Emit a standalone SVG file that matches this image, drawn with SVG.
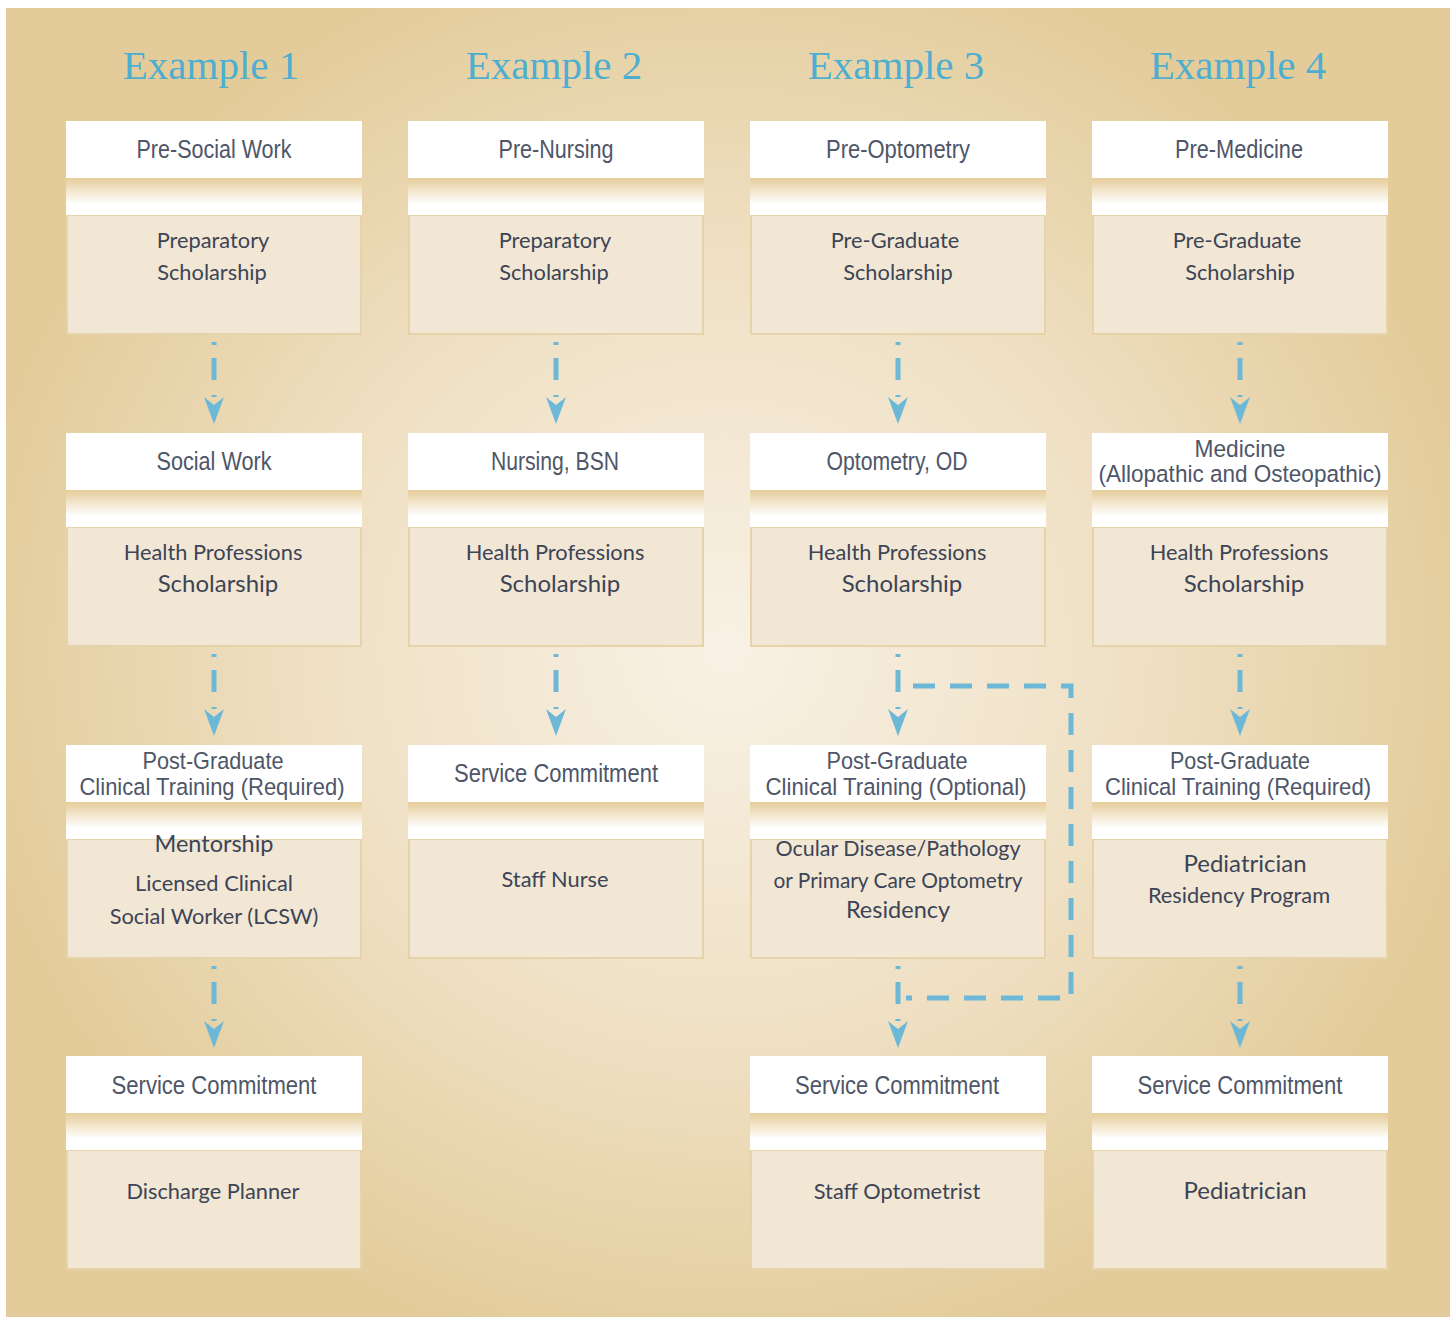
<svg xmlns="http://www.w3.org/2000/svg" width="1450" height="1317" viewBox="0 0 1450 1317">
<defs>
<radialGradient id="bg" cx="725" cy="650" r="760" gradientUnits="userSpaceOnUse" gradientTransform="translate(725 650) scale(1 0.95) translate(-725 -650)">
<stop offset="0" stop-color="#f8f1e5"/>
<stop offset="0.55" stop-color="#efe0c3"/>
<stop offset="1" stop-color="#e3cc9a"/>
</radialGradient>
<linearGradient id="band" x1="0" y1="0" x2="0" y2="1">
<stop offset="0" stop-color="#e6cd9a"/>
<stop offset="0.7" stop-color="#ffffff"/>
<stop offset="1" stop-color="#ffffff"/>
</linearGradient>
<style>
.hd{fill:#ffffff}
.bd{fill:#f2e7d5;stroke:#e6d3a9;stroke-width:2}
.bn{fill:url(#band)}
.ht{font-family:"Liberation Sans",Arial,sans-serif;font-size:26px;fill:#4e5668;text-anchor:middle}
.h2{font-family:"Liberation Sans",Arial,sans-serif;font-size:24.5px;fill:#4e5668;text-anchor:middle}
.bt{font-family:Lato,"Open Sans",sans-serif;font-size:21.8px;fill:#3c4455;text-anchor:middle}
.bl{font-size:24px}
.ex{font-family:"Liberation Serif",serif;font-size:41px;fill:#4eaed0;text-anchor:middle}
.dl{fill:none;stroke:#6cb8d6;stroke-width:5}
.ah{fill:#6cb8d6}
</style>
<symbol id="arr" overflow="visible">
<line class="dl" x1="0" y1="0" x2="0" y2="55" stroke-dasharray="3 13 22 15 3 20"/>
<polygon class="ah" points="0,82 -10,55 0,63 10,55"/>
</symbol>
</defs>
<rect x="6" y="8" width="1444" height="1309" fill="url(#bg)"/>

<g id="headings">
<text class="ex" x="211" y="79">Example 1</text>
<text class="ex" x="554" y="79">Example 2</text>
<text class="ex" x="896" y="79">Example 3</text>
<text class="ex" x="1238" y="79">Example 4</text>
</g>

<g id="connectors">
<use href="#arr" x="214" y="342"/>
<use href="#arr" x="214" y="654"/>
<use href="#arr" x="214" y="966"/>
<use href="#arr" x="556" y="342"/>
<use href="#arr" x="556" y="654"/>
<use href="#arr" x="898" y="342"/>
<use href="#arr" x="898" y="654"/>
<use href="#arr" x="898" y="966"/>
<use href="#arr" x="1240" y="342"/>
<use href="#arr" x="1240" y="654"/>
<use href="#arr" x="1240" y="966"/>
<path class="dl" d="M913 686 H1071 V998 H906" stroke-dasharray="22 15"/>
</g>

<!-- Row 1 -->
<g id="n1a"><rect class="bd" x="67" y="215" width="294" height="119"/><rect class="hd" x="66" y="121" width="296" height="57"/><rect class="bn" x="66" y="178" width="296" height="37"/>
<text class="ht" x="214" y="158" textLength="155" lengthAdjust="spacingAndGlyphs">Pre-Social Work</text>
<text class="bt" x="213" y="248">Preparatory</text><text class="bt" x="212" y="280">Scholarship</text></g>
<g id="n2a"><rect class="bd" x="409" y="215" width="294" height="119"/><rect class="hd" x="408" y="121" width="296" height="57"/><rect class="bn" x="408" y="178" width="296" height="37"/>
<text class="ht" x="556" y="158" textLength="115" lengthAdjust="spacingAndGlyphs">Pre-Nursing</text>
<text class="bt" x="555" y="248">Preparatory</text><text class="bt" x="554" y="280">Scholarship</text></g>
<g id="n3a"><rect class="bd" x="751" y="215" width="294" height="119"/><rect class="hd" x="750" y="121" width="296" height="57"/><rect class="bn" x="750" y="178" width="296" height="37"/>
<text class="ht" x="898" y="158" textLength="144" lengthAdjust="spacingAndGlyphs">Pre-Optometry</text>
<text class="bt" x="895" y="248">Pre-Graduate</text><text class="bt" x="898" y="280">Scholarship</text></g>
<g id="n4a"><rect class="bd" x="1093" y="215" width="294" height="119"/><rect class="hd" x="1092" y="121" width="296" height="57"/><rect class="bn" x="1092" y="178" width="296" height="37"/>
<text class="ht" x="1239" y="158" textLength="128" lengthAdjust="spacingAndGlyphs">Pre-Medicine</text>
<text class="bt" x="1237" y="248">Pre-Graduate</text><text class="bt" x="1240" y="280">Scholarship</text></g>

<!-- Row 2 -->
<g id="n1b"><rect class="bd" x="67" y="527" width="294" height="119"/><rect class="hd" x="66" y="433" width="296" height="57"/><rect class="bn" x="66" y="490" width="296" height="37"/>
<text class="ht" x="214" y="470" textLength="115" lengthAdjust="spacingAndGlyphs">Social Work</text>
<text class="bt" x="213" y="560">Health Professions</text><text class="bt bl" x="218" y="592">Scholarship</text></g>
<g id="n2b"><rect class="bd" x="409" y="527" width="294" height="119"/><rect class="hd" x="408" y="433" width="296" height="57"/><rect class="bn" x="408" y="490" width="296" height="37"/>
<text class="ht" x="555" y="470" textLength="128" lengthAdjust="spacingAndGlyphs">Nursing, BSN</text>
<text class="bt" x="555" y="560">Health Professions</text><text class="bt bl" x="560" y="592">Scholarship</text></g>
<g id="n3b"><rect class="bd" x="751" y="527" width="294" height="119"/><rect class="hd" x="750" y="433" width="296" height="57"/><rect class="bn" x="750" y="490" width="296" height="37"/>
<text class="ht" x="897" y="470" textLength="141" lengthAdjust="spacingAndGlyphs">Optometry, OD</text>
<text class="bt" x="897" y="560">Health Professions</text><text class="bt bl" x="902" y="592">Scholarship</text></g>
<g id="n4b"><rect class="bd" x="1093" y="527" width="294" height="119"/><rect class="hd" x="1092" y="433" width="296" height="57"/><rect class="bn" x="1092" y="490" width="296" height="37"/>
<text class="h2" x="1240" y="457" textLength="91" lengthAdjust="spacingAndGlyphs">Medicine</text><text class="h2" x="1240" y="482" textLength="283" lengthAdjust="spacingAndGlyphs">(Allopathic and Osteopathic)</text>
<text class="bt" x="1239" y="560">Health Professions</text><text class="bt bl" x="1244" y="592">Scholarship</text></g>

<!-- Row 3 -->
<g id="n1c"><rect class="bd" x="67" y="839" width="294" height="119"/><rect class="hd" x="66" y="745" width="296" height="57"/><rect class="bn" x="66" y="802" width="296" height="37"/>
<text class="h2" x="213" y="769" textLength="141" lengthAdjust="spacingAndGlyphs">Post-Graduate</text><text class="h2" x="212" y="795" textLength="265" lengthAdjust="spacingAndGlyphs">Clinical  Training  (Required)</text>
<text class="bt" x="214" y="852" style="font-size:23.5px">Mentorship</text><text class="bt" x="214" y="891">Licensed  Clinical</text><text class="bt" x="214" y="924">Social Worker (LCSW)</text></g>
<g id="n2c"><rect class="bd" x="409" y="839" width="294" height="119"/><rect class="hd" x="408" y="745" width="296" height="57"/><rect class="bn" x="408" y="802" width="296" height="37"/>
<text class="ht" x="556" y="782" textLength="204" lengthAdjust="spacingAndGlyphs">Service Commitment</text>
<text class="bt" x="555" y="887">Staff Nurse</text></g>
<g id="n3c"><rect class="bd" x="751" y="839" width="294" height="119"/><rect class="hd" x="750" y="745" width="296" height="57"/><rect class="bn" x="750" y="802" width="296" height="37"/>
<text class="h2" x="897" y="769" textLength="141" lengthAdjust="spacingAndGlyphs">Post-Graduate</text><text class="h2" x="896" y="795" textLength="261" lengthAdjust="spacingAndGlyphs">Clinical  Training  (Optional)</text>
<text class="bt" x="898" y="856" textLength="245" lengthAdjust="spacingAndGlyphs">Ocular  Disease/Pathology</text><text class="bt" x="898" y="888" textLength="249" lengthAdjust="spacingAndGlyphs">or Primary Care Optometry</text><text class="bt" x="898" y="918" style="font-size:23.5px">Residency</text></g>
<g id="n4c"><rect class="bd" x="1093" y="839" width="294" height="119"/><rect class="hd" x="1092" y="745" width="296" height="57"/><rect class="bn" x="1092" y="802" width="296" height="37"/>
<text class="h2" x="1240" y="769" textLength="140" lengthAdjust="spacingAndGlyphs">Post-Graduate</text><text class="h2" x="1238" y="795" textLength="266" lengthAdjust="spacingAndGlyphs">Clinical  Training  (Required)</text>
<text class="bt bl" x="1245" y="872">Pediatrician</text><text class="bt" x="1239" y="903">Residency Program</text></g>

<!-- Row 4 -->
<g id="n1d"><rect class="bd" x="67" y="1150" width="294" height="119"/><rect class="hd" x="66" y="1056" width="296" height="57"/><rect class="bn" x="66" y="1113" width="296" height="37"/>
<text class="ht" x="214" y="1094" textLength="205" lengthAdjust="spacingAndGlyphs">Service Commitment</text>
<text class="bt" x="213" y="1199">Discharge Planner</text></g>
<g id="n3d"><rect class="bd" x="751" y="1150" width="294" height="119"/><rect class="hd" x="750" y="1056" width="296" height="57"/><rect class="bn" x="750" y="1113" width="296" height="37"/>
<text class="ht" x="897" y="1094" textLength="204" lengthAdjust="spacingAndGlyphs">Service Commitment</text>
<text class="bt" x="897" y="1199">Staff  Optometrist</text></g>
<g id="n4d"><rect class="bd" x="1093" y="1150" width="294" height="119"/><rect class="hd" x="1092" y="1056" width="296" height="57"/><rect class="bn" x="1092" y="1113" width="296" height="37"/>
<text class="ht" x="1240" y="1094" textLength="205" lengthAdjust="spacingAndGlyphs">Service Commitment</text>
<text class="bt bl" x="1245" y="1199">Pediatrician</text></g>
</svg>
